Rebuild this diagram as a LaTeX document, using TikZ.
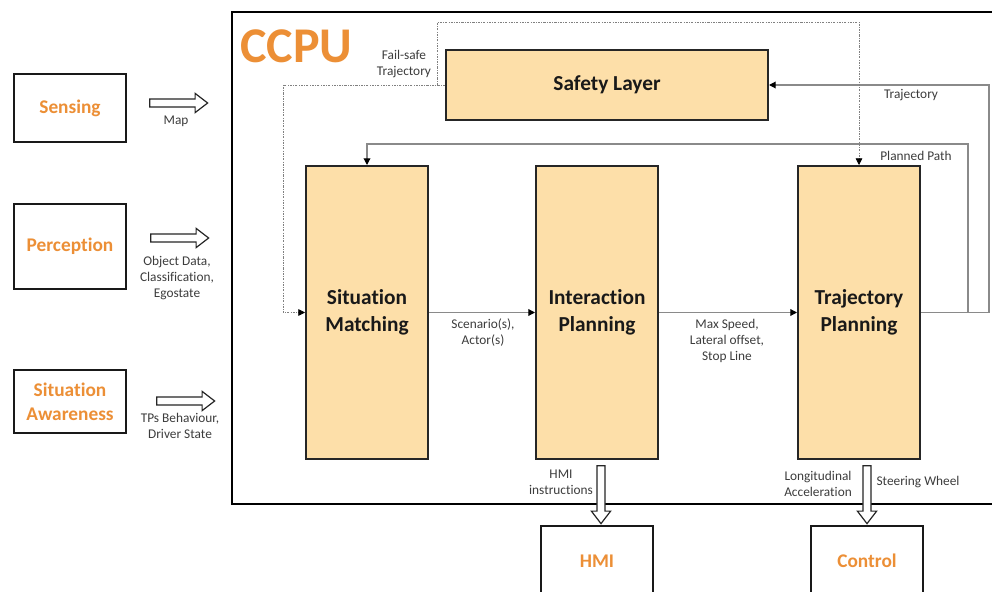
\documentclass[tikz,border=0pt]{standalone}
\usepackage{fontspec}
\setmainfont{Carlito}[Ligatures=NoCommon]
\usetikzlibrary{arrows.meta,shapes.arrows}
\definecolor{ccpuorange}{HTML}{EC8F36}
\definecolor{blockfill}{HTML}{FDDFA9}
\definecolor{linkgray}{HTML}{8A8A8A}
\definecolor{labelgray}{HTML}{3C3C3C}
\begin{document}
\begin{tikzpicture}[x=0.75pt,y=-0.75pt,
  block/.style={draw=black!85, line width=1.5pt, fill=blockfill, inner sep=0pt,
    font=\bfseries\fontsize{16}{20}\selectfont, text=black!90, align=center},
  source/.style={draw=black!90, line width=1.9pt, fill=white, inner sep=0pt,
    minimum width=84pt, font=\bfseries\fontsize{14.5}{18}\selectfont,
    text=ccpuorange, align=center},
  link/.style={draw=linkgray, line width=0.9pt,
    -{Triangle[length=5pt,width=5pt,color=black]}},
  failsafe/.style={draw=gray, line width=0.6pt,
    dash pattern=on 1.6pt off 1pt on 0.5pt off 1pt,
    -{Triangle[length=5pt,width=5pt,color=black]}},
  note/.style={font=\fontsize{10}{12}\selectfont, text=labelgray,
    align=center, inner sep=0pt},
  bigarrow/.style={single arrow, draw=black!85, fill=white, line width=0.9pt,
    inner xsep=0pt, inner ysep=2.6pt, minimum width=13.5pt,
    minimum height=43.5pt, single arrow head extend=4.15pt,
    single arrow tip angle=75}]

\useasboundingbox (0,0) rectangle (992,592);
\clip (0,0) rectangle (992,592);

% central computing unit frame
\node[draw=black, line width=2.2pt, minimum width=583.5pt, minimum height=369pt,
  inner sep=0pt] (ccpu) at (621,258) {};
\node[anchor=west, inner sep=0pt, text=ccpuorange,
  font=\bfseries\fontsize{37.5}{40}\selectfont] (ccpuTitle) at (240,46) {CCPU};

% processing blocks
\node[block, minimum width=241.5pt, minimum height=52.5pt] (safety) at (607,85) {Safety Layer};
\node[block, minimum width=91.5pt, minimum height=219.75pt] (sm) at (367,312.5) {Situation\\Matching};
\node[block, minimum width=91.5pt, minimum height=219.75pt] (ip) at (597,312.5) {Interaction\\Planning};
\node[block, minimum width=91.5pt, minimum height=219.75pt] (tp) at (859,312.5) {Trajectory\\Planning};

% input sources
\node[source, minimum height=51pt] (sensing) at (70,108) {Sensing};
\node[source, minimum height=63.75pt] (perception) at (70,246.5) {Perception};
\node[source, minimum height=47.25pt] (awareness) at (70,401.5) {Situation\\Awareness};

% outputs
\node[source, minimum height=52.5pt] (hmi) at (597,561) {HMI};
\node[source, minimum height=52.5pt] (control) at (867,561) {Control};

% hollow data-flow arrows
\node[bigarrow] (inMap) at (176,103) {};
\node[bigarrow] (inObj) at (177,238) {};
\node[bigarrow] (inTPs) at (183,401) {};
\node[bigarrow, rotate=-90] (outHmi) at (601,492) {};
\node[bigarrow, rotate=-90] (outCtrl) at (867,492) {};

% internal connectors
\draw[link] (sm.east) -- (ip.west);
\draw[link] (ip.east) -- (tp.west);

\coordinate (trajR) at (989,85);
\coordinate (pathR) at (968,144);
\draw[link] (tp.east) -| (trajR) -- (safety.east);
\draw[link] (tp.east) -| (pathR) -| (sm.north);

% fail-safe trajectory (dotted)
\coordinate (fsLeft) at (283,85);
\coordinate (fsJoin) at (437,85);
\coordinate (fsTop) at (437,22);
\draw[failsafe] (safety.west) -- (fsLeft) |- (sm.west);
\draw[failsafe] (fsJoin) -- (fsTop) -| (tp.north);

% labels
\node[note] (lFail) at (404,64) {Fail-safe\\Trajectory};
\node[note] (lTraj) at (911,95) {Trajectory};
\node[note] (lPath) at (916,156) {Planned Path};
\node[note] (lScen) at (483,333) {Scenario(s),\\Actor(s)};
\node[note] (lSpeed) at (727,341) {Max Speed,\\Lateral offset,\\Stop Line};
\node[note] (lMap) at (176,121) {Map};
\node[note] (lObj) at (177,278) {Object Data,\\Classification,\\Egostate};
\node[note] (lTPs) at (180,426) {TPs Behaviour,\\Driver State};
\node[note] (lHmi) at (561,482) {HMI\\instructions};
\node[note] (lLong) at (818,484) {Longitudinal\\Acceleration};
\node[note] (lSteer) at (918,482) {Steering Wheel};
\end{tikzpicture}
\end{document}
